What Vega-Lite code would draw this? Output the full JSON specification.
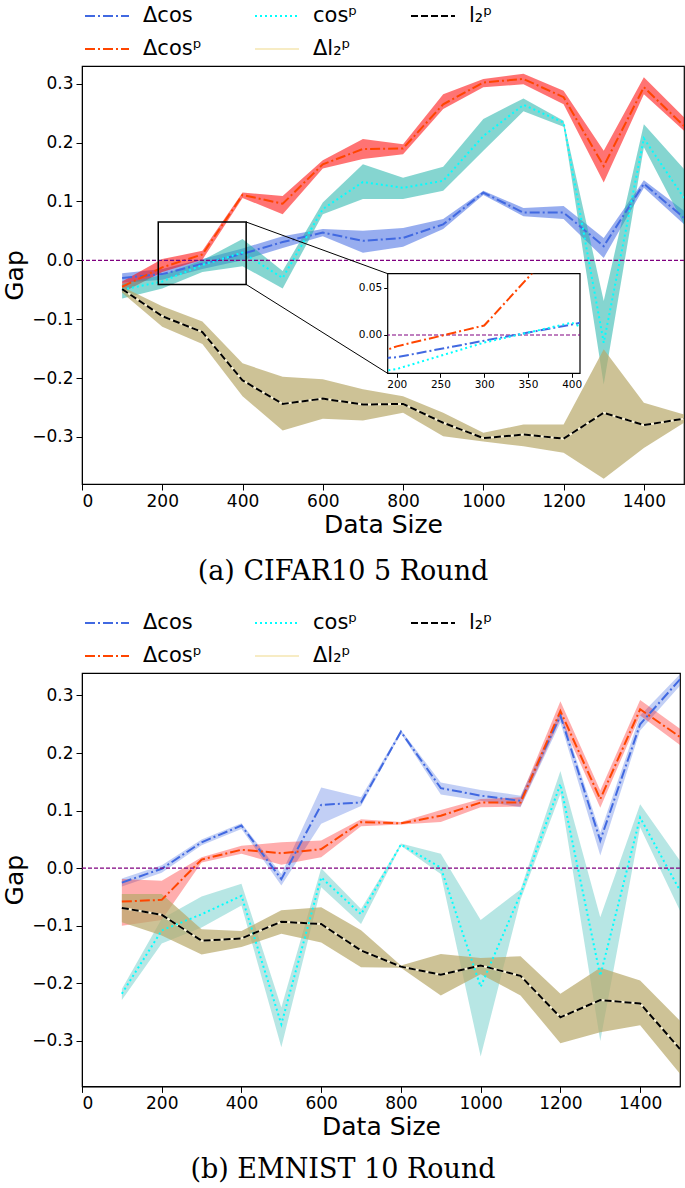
{
  "$schema": "https://vega.github.io/schema/vega-lite/v6.json",
  "padding": {"left": 2, "top": -8, "right": 0, "bottom": 0},
  "config": {
    "font": "DejaVu Sans",
    "view": {"stroke": null},
    "axis": {"labelFont": "DejaVu Sans", "titleFont": "DejaVu Sans", "labelColor": "black", "titleColor": "black", "domainColor": "black", "tickColor": "black", "grid": false, "labelFontSize": 17, "titleFontSize": 25, "titleFontWeight": "normal", "tickSize": 6, "labelPadding": 3}
  },
  "datasets": {
    "a": [
      {"series": "Δcos", "x": 100, "y": -0.030, "lo": -0.038, "hi": -0.022},
      {"series": "Δcos", "x": 200, "y": -0.0235, "lo": -0.033, "hi": -0.015},
      {"series": "Δcos", "x": 300, "y": -0.006, "lo": -0.015, "hi": 0.002},
      {"series": "Δcos", "x": 400, "y": 0.011, "lo": 0.000, "hi": 0.020},
      {"series": "Δcos", "x": 500, "y": 0.031, "lo": 0.021, "hi": 0.041},
      {"series": "Δcos", "x": 600, "y": 0.047, "lo": 0.041, "hi": 0.053},
      {"series": "Δcos", "x": 700, "y": 0.033, "lo": 0.013, "hi": 0.050},
      {"series": "Δcos", "x": 800, "y": 0.038, "lo": 0.023, "hi": 0.055},
      {"series": "Δcos", "x": 900, "y": 0.061, "lo": 0.053, "hi": 0.070},
      {"series": "Δcos", "x": 1000, "y": 0.115, "lo": 0.111, "hi": 0.118},
      {"series": "Δcos", "x": 1100, "y": 0.081, "lo": 0.075, "hi": 0.089},
      {"series": "Δcos", "x": 1200, "y": 0.081, "lo": 0.070, "hi": 0.092},
      {"series": "Δcos", "x": 1300, "y": 0.024, "lo": 0.004, "hi": 0.038},
      {"series": "Δcos", "x": 1400, "y": 0.130, "lo": 0.123, "hi": 0.136},
      {"series": "Δcos", "x": 1500, "y": 0.072, "lo": 0.061, "hi": 0.084},
      {"series": "Δcosᵖ", "x": 100, "y": -0.045, "lo": -0.055, "hi": -0.036},
      {"series": "Δcosᵖ", "x": 200, "y": -0.012, "lo": -0.020, "hi": 0.002},
      {"series": "Δcosᵖ", "x": 300, "y": 0.010, "lo": 0.001, "hi": 0.016},
      {"series": "Δcosᵖ", "x": 400, "y": 0.111, "lo": 0.106, "hi": 0.115},
      {"series": "Δcosᵖ", "x": 500, "y": 0.096, "lo": 0.078, "hi": 0.109},
      {"series": "Δcosᵖ", "x": 600, "y": 0.163, "lo": 0.156, "hi": 0.170},
      {"series": "Δcosᵖ", "x": 700, "y": 0.189, "lo": 0.172, "hi": 0.206},
      {"series": "Δcosᵖ", "x": 800, "y": 0.190, "lo": 0.180, "hi": 0.197},
      {"series": "Δcosᵖ", "x": 900, "y": 0.265, "lo": 0.257, "hi": 0.282},
      {"series": "Δcosᵖ", "x": 1000, "y": 0.302, "lo": 0.294, "hi": 0.308},
      {"series": "Δcosᵖ", "x": 1100, "y": 0.308, "lo": 0.299, "hi": 0.317},
      {"series": "Δcosᵖ", "x": 1200, "y": 0.277, "lo": 0.265, "hi": 0.288},
      {"series": "Δcosᵖ", "x": 1300, "y": 0.160, "lo": 0.132, "hi": 0.186},
      {"series": "Δcosᵖ", "x": 1400, "y": 0.294, "lo": 0.282, "hi": 0.311},
      {"series": "Δcosᵖ", "x": 1500, "y": 0.228, "lo": 0.220, "hi": 0.243},
      {"series": "cosᵖ", "x": 100, "y": -0.050, "lo": -0.065, "hi": -0.040},
      {"series": "cosᵖ", "x": 200, "y": -0.036, "lo": -0.048, "hi": -0.025},
      {"series": "cosᵖ", "x": 300, "y": -0.008, "lo": -0.020, "hi": 0.000},
      {"series": "cosᵖ", "x": 400, "y": 0.013, "lo": -0.010, "hi": 0.036},
      {"series": "cosᵖ", "x": 500, "y": -0.030, "lo": -0.048, "hi": -0.018},
      {"series": "cosᵖ", "x": 600, "y": 0.087, "lo": 0.078, "hi": 0.098},
      {"series": "cosᵖ", "x": 700, "y": 0.133, "lo": 0.104, "hi": 0.163},
      {"series": "cosᵖ", "x": 800, "y": 0.123, "lo": 0.104, "hi": 0.140},
      {"series": "cosᵖ", "x": 900, "y": 0.135, "lo": 0.118, "hi": 0.159},
      {"series": "cosᵖ", "x": 1000, "y": 0.211, "lo": 0.186, "hi": 0.240},
      {"series": "cosᵖ", "x": 1100, "y": 0.264, "lo": 0.253, "hi": 0.275},
      {"series": "cosᵖ", "x": 1200, "y": 0.234, "lo": 0.227, "hi": 0.237},
      {"series": "cosᵖ", "x": 1300, "y": -0.140, "lo": -0.211, "hi": -0.069},
      {"series": "cosᵖ", "x": 1400, "y": 0.207, "lo": 0.192, "hi": 0.231},
      {"series": "cosᵖ", "x": 1500, "y": 0.106, "lo": 0.061, "hi": 0.155},
      {"series": "l₂ᵖ", "x": 100, "y": -0.049, "lo": -0.055, "hi": -0.045},
      {"series": "l₂ᵖ", "x": 200, "y": -0.095, "lo": -0.113, "hi": -0.078},
      {"series": "l₂ᵖ", "x": 300, "y": -0.122, "lo": -0.142, "hi": -0.104},
      {"series": "l₂ᵖ", "x": 400, "y": -0.204, "lo": -0.231, "hi": -0.175},
      {"series": "l₂ᵖ", "x": 500, "y": -0.244, "lo": -0.289, "hi": -0.198},
      {"series": "l₂ᵖ", "x": 600, "y": -0.235, "lo": -0.269, "hi": -0.202},
      {"series": "l₂ᵖ", "x": 700, "y": -0.245, "lo": -0.272, "hi": -0.219},
      {"series": "l₂ᵖ", "x": 800, "y": -0.244, "lo": -0.259, "hi": -0.231},
      {"series": "l₂ᵖ", "x": 900, "y": -0.276, "lo": -0.299, "hi": -0.259},
      {"series": "l₂ᵖ", "x": 1000, "y": -0.302, "lo": -0.308, "hi": -0.293},
      {"series": "l₂ᵖ", "x": 1100, "y": -0.296, "lo": -0.316, "hi": -0.279},
      {"series": "l₂ᵖ", "x": 1200, "y": -0.303, "lo": -0.327, "hi": -0.279},
      {"series": "l₂ᵖ", "x": 1300, "y": -0.259, "lo": -0.371, "hi": -0.151},
      {"series": "l₂ᵖ", "x": 1400, "y": -0.280, "lo": -0.319, "hi": -0.242},
      {"series": "l₂ᵖ", "x": 1500, "y": -0.269, "lo": -0.276, "hi": -0.262}
    ],
    "b": [
      {"series": "Δcos", "x": 100, "y": -0.025, "lo": -0.032, "hi": -0.018},
      {"series": "Δcos", "x": 200, "y": -0.001, "lo": -0.008, "hi": 0.005},
      {"series": "Δcos", "x": 300, "y": 0.045, "lo": 0.040, "hi": 0.050},
      {"series": "Δcos", "x": 400, "y": 0.074, "lo": 0.068, "hi": 0.078},
      {"series": "Δcos", "x": 500, "y": -0.019, "lo": -0.030, "hi": -0.010},
      {"series": "Δcos", "x": 600, "y": 0.110, "lo": 0.077, "hi": 0.140},
      {"series": "Δcos", "x": 700, "y": 0.114, "lo": 0.108, "hi": 0.123},
      {"series": "Δcos", "x": 800, "y": 0.237, "lo": 0.234, "hi": 0.240},
      {"series": "Δcos", "x": 900, "y": 0.139, "lo": 0.128, "hi": 0.149},
      {"series": "Δcos", "x": 1000, "y": 0.126, "lo": 0.117, "hi": 0.136},
      {"series": "Δcos", "x": 1100, "y": 0.117, "lo": 0.106, "hi": 0.126},
      {"series": "Δcos", "x": 1200, "y": 0.265, "lo": 0.253, "hi": 0.273},
      {"series": "Δcos", "x": 1300, "y": 0.048, "lo": 0.022, "hi": 0.062},
      {"series": "Δcos", "x": 1400, "y": 0.250, "lo": 0.239, "hi": 0.265},
      {"series": "Δcos", "x": 1500, "y": 0.328, "lo": 0.317, "hi": 0.337},
      {"series": "Δcosᵖ", "x": 100, "y": -0.058, "lo": -0.100, "hi": -0.019},
      {"series": "Δcosᵖ", "x": 200, "y": -0.055, "lo": -0.090, "hi": -0.022},
      {"series": "Δcosᵖ", "x": 300, "y": 0.015, "lo": 0.010, "hi": 0.019},
      {"series": "Δcosᵖ", "x": 400, "y": 0.032, "lo": 0.025, "hi": 0.039},
      {"series": "Δcosᵖ", "x": 500, "y": 0.026, "lo": 0.006, "hi": 0.045},
      {"series": "Δcosᵖ", "x": 600, "y": 0.033, "lo": 0.019, "hi": 0.048},
      {"series": "Δcosᵖ", "x": 700, "y": 0.080, "lo": 0.073, "hi": 0.085},
      {"series": "Δcosᵖ", "x": 800, "y": 0.078, "lo": 0.076, "hi": 0.080},
      {"series": "Δcosᵖ", "x": 900, "y": 0.091, "lo": 0.080, "hi": 0.101},
      {"series": "Δcosᵖ", "x": 1000, "y": 0.114, "lo": 0.106, "hi": 0.120},
      {"series": "Δcosᵖ", "x": 1100, "y": 0.114, "lo": 0.107, "hi": 0.123},
      {"series": "Δcosᵖ", "x": 1200, "y": 0.273, "lo": 0.259, "hi": 0.290},
      {"series": "Δcosᵖ", "x": 1300, "y": 0.120, "lo": 0.105, "hi": 0.135},
      {"series": "Δcosᵖ", "x": 1400, "y": 0.276, "lo": 0.265, "hi": 0.292},
      {"series": "Δcosᵖ", "x": 1500, "y": 0.228, "lo": 0.214, "hi": 0.242},
      {"series": "cosᵖ", "x": 100, "y": -0.218, "lo": -0.229, "hi": -0.210},
      {"series": "cosᵖ", "x": 200, "y": -0.108, "lo": -0.131, "hi": -0.088},
      {"series": "cosᵖ", "x": 300, "y": -0.080, "lo": -0.103, "hi": -0.049},
      {"series": "cosᵖ", "x": 400, "y": -0.048, "lo": -0.065, "hi": -0.027},
      {"series": "cosᵖ", "x": 500, "y": -0.271, "lo": -0.311, "hi": -0.242},
      {"series": "cosᵖ", "x": 600, "y": -0.016, "lo": -0.033, "hi": 0.000},
      {"series": "cosᵖ", "x": 700, "y": -0.080, "lo": -0.097, "hi": -0.071},
      {"series": "cosᵖ", "x": 800, "y": 0.041, "lo": 0.039, "hi": 0.043},
      {"series": "cosᵖ", "x": 900, "y": 0.001, "lo": -0.010, "hi": 0.025},
      {"series": "cosᵖ", "x": 1000, "y": -0.206, "lo": -0.327, "hi": -0.090},
      {"series": "cosᵖ", "x": 1100, "y": -0.045, "lo": -0.055, "hi": -0.037},
      {"series": "cosᵖ", "x": 1200, "y": 0.146, "lo": 0.129, "hi": 0.169},
      {"series": "cosᵖ", "x": 1300, "y": -0.187, "lo": -0.300, "hi": -0.085},
      {"series": "cosᵖ", "x": 1400, "y": 0.088, "lo": 0.071, "hi": 0.111},
      {"series": "cosᵖ", "x": 1500, "y": -0.039, "lo": -0.074, "hi": 0.013},
      {"series": "l₂ᵖ", "x": 100, "y": -0.069, "lo": -0.094, "hi": -0.045},
      {"series": "l₂ᵖ", "x": 200, "y": -0.081, "lo": -0.117, "hi": -0.045},
      {"series": "l₂ᵖ", "x": 300, "y": -0.126, "lo": -0.150, "hi": -0.106},
      {"series": "l₂ᵖ", "x": 400, "y": -0.122, "lo": -0.137, "hi": -0.109},
      {"series": "l₂ᵖ", "x": 500, "y": -0.093, "lo": -0.114, "hi": -0.073},
      {"series": "l₂ᵖ", "x": 600, "y": -0.097, "lo": -0.129, "hi": -0.068},
      {"series": "l₂ᵖ", "x": 700, "y": -0.143, "lo": -0.172, "hi": -0.108},
      {"series": "l₂ᵖ", "x": 800, "y": -0.171, "lo": -0.173, "hi": -0.169},
      {"series": "l₂ᵖ", "x": 900, "y": -0.185, "lo": -0.221, "hi": -0.149},
      {"series": "l₂ᵖ", "x": 1000, "y": -0.169, "lo": -0.184, "hi": -0.156},
      {"series": "l₂ᵖ", "x": 1100, "y": -0.187, "lo": -0.221, "hi": -0.153},
      {"series": "l₂ᵖ", "x": 1200, "y": -0.259, "lo": -0.304, "hi": -0.218},
      {"series": "l₂ᵖ", "x": 1300, "y": -0.229, "lo": -0.285, "hi": -0.173},
      {"series": "l₂ᵖ", "x": 1400, "y": -0.235, "lo": -0.273, "hi": -0.195},
      {"series": "l₂ᵖ", "x": 1500, "y": -0.314, "lo": -0.357, "hi": -0.265}
    ]
  },
  "spacing": 13,
  "resolve": {
    "scale": {"stroke": "independent", "strokeDash": "independent", "fill": "independent", "x": "independent", "y": "independent"},
    "legend": {"stroke": "independent", "strokeDash": "independent", "fill": "independent"}
  },
  "vconcat": [
    {
      "width": 602,
      "height": 418,
      "view": {"stroke": "black", "strokeWidth": 1.2},
      "title": {"text": "(a) CIFAR10 5 Round", "orient": "bottom", "anchor": "middle", "dx": -40, "font": "DejaVu Serif", "fontSize": 27, "fontWeight": "normal", "color": "black", "offset": 22},
      "data": {"name": "a"},
      "resolve": {"scale": {"x": "independent", "y": "independent"}},
      "layer": [
        {
          "layer": [
            {
              "transform": [{"filter": "datum.series !== 'l₂ᵖ'"}],
              "mark": {"type": "area", "clip": true, "fillOpacity": 0.55},
              "encoding": {
                "x": {"field": "x", "type": "quantitative", "title": "Data Size", "scale": {"domain": [0, 1500], "nice": false, "zero": false}, "axis": {"values": [0, 200, 400, 600, 800, 1000, 1200, 1400], "format": "d", "titlePadding": 3}},
                "y": {"field": "lo", "type": "quantitative", "title": "Gap", "scale": {"domain": [-0.38, 0.33], "nice": false, "zero": false}, "axis": {"values": [-0.3, -0.2, -0.1, 0, 0.1, 0.2, 0.3], "format": ".1f", "titlePadding": 4}},
                "y2": {"field": "hi"},
                "fill": {"field": "series", "type": "nominal", "scale": {"domain": ["Δcos", "Δcosᵖ", "cosᵖ"], "range": ["#4169e1", "#ff0000", "#20b2aa"]}, "legend": null}
              }
            },
            {
              "transform": [{"filter": "datum.series === 'l₂ᵖ'"}],
              "mark": {"type": "area", "clip": true, "fill": "#b8a86a", "fillOpacity": 0.7},
              "encoding": {
                "x": {"field": "x", "type": "quantitative", "title": "Data Size"},
                "y": {"field": "lo", "type": "quantitative", "title": "Gap"},
                "y2": {"field": "hi"}
              }
            },
            {
              "transform": [{"filter": "datum.series === 'l₂ᵖ'"}],
              "mark": {"type": "line", "clip": true, "stroke": "#fbf4d8", "strokeWidth": 2},
              "encoding": {
                "x": {"field": "x", "type": "quantitative", "title": "Data Size"},
                "y": {"field": "y", "type": "quantitative", "title": "Gap"}
              }
            },
            {
              "mark": {"type": "line", "clip": true, "strokeWidth": 2},
              "encoding": {
                "x": {"field": "x", "type": "quantitative", "title": "Data Size"},
                "y": {"field": "y", "type": "quantitative", "title": "Gap"},
                "stroke": {"field": "series", "type": "nominal", "scale": {"domain": ["Δcos", "Δcosᵖ", "cosᵖ", "Δl₂ᵖ", "l₂ᵖ"], "range": ["#4169e1", "#ff4500", "#00ffff", "#f7ecc4", "#000000"]}, "legend": {"orient": "none", "legendX": 2, "legendY": -73, "columns": 3, "symbolType": "stroke", "symbolSize": 1936, "symbolStrokeWidth": 2, "labelFontSize": 21, "labelFont": "DejaVu Sans", "labelColor": "black", "title": null, "rowPadding": -7, "columnPadding": 49, "labelOffset": 13, "labelLimit": 300, "padding": 0}},
                "strokeDash": {"field": "series", "type": "nominal", "scale": {"domain": ["Δcos", "Δcosᵖ", "cosᵖ", "Δl₂ᵖ", "l₂ᵖ"], "range": [[10, 3, 2, 3], [10, 3, 2, 3], [2, 3], [1, 0], [7, 3]]}, "legend": {"orient": "none", "legendX": 2, "legendY": -73, "columns": 3, "symbolType": "stroke", "symbolSize": 1936, "symbolStrokeWidth": 2, "labelFontSize": 21, "labelFont": "DejaVu Sans", "labelColor": "black", "title": null, "rowPadding": -7, "columnPadding": 49, "labelOffset": 13, "labelLimit": 300, "padding": 0}}
              }
            },
            {
              "data": {"values": [{"y": 0}]},
              "mark": {"type": "rule", "stroke": "#800080", "strokeDash": [4, 2], "strokeWidth": 1.2},
              "encoding": {"y": {"field": "y", "type": "quantitative", "title": "Gap"}}
            },
            {
              "data": {"values": [{"x": 190, "x2": 409, "y": -0.041, "y2": 0.065}]},
              "mark": {"type": "rect", "fill": null, "stroke": "black", "strokeWidth": 1.5},
              "encoding": {
                "x": {"field": "x", "type": "quantitative", "title": "Data Size"},
                "x2": {"field": "x2"},
                "y": {"field": "y", "type": "quantitative", "title": "Gap"},
                "y2": {"field": "y2"}
              }
            },
            {
              "data": {"values": [{"x": 409, "x2": 762, "y": 0.065, "y2": -0.0228}, {"x": 409, "x2": 762, "y": -0.041, "y2": -0.1922}]},
              "mark": {"type": "rule", "stroke": "black", "strokeWidth": 1},
              "encoding": {
                "x": {"field": "x", "type": "quantitative", "title": "Data Size"},
                "x2": {"field": "x2"},
                "y": {"field": "y", "type": "quantitative", "title": "Gap"},
                "y2": {"field": "y2"}
              }
            }
          ]
        },
        {
          "layer": [
            {
              "data": {"values": [{"x": 189.7, "x2": 409.5, "y": -0.0405, "y2": 0.0648}]},
              "mark": {"type": "rect", "fill": "white", "stroke": "black", "strokeWidth": 1.2},
              "encoding": {
                "x": {"field": "x", "type": "quantitative", "title": null, "scale": {"domain": [189.7, 409.5], "range": [305.7, 498], "nice": false, "zero": false}, "axis": {"orient": "bottom", "offset": -110.7, "values": [200, 250, 300, 350, 400], "labelFontSize": 10.5, "domain": false, "tickSize": 4, "labelPadding": 2, "title": null}},
                "x2": {"field": "x2"},
                "y": {"field": "y", "type": "quantitative", "title": null, "scale": {"domain": [-0.0405, 0.0648], "range": [307.3, 207.7], "nice": false, "zero": false}, "axis": {"orient": "left", "offset": -305.7, "values": [0, 0.05], "format": ".2f", "labelFontSize": 10.5, "domain": false, "tickSize": 4, "labelPadding": 2, "title": null}},
                "y2": {"field": "y2"}
              }
            },
            {
              "data": {"values": [{"y": 0}]},
              "mark": {"type": "rule", "stroke": "#800080", "strokeDash": [4, 2], "strokeWidth": 1.2, "clip": {"expr": "pathShape('M305.7,207.7H498V307.3H305.7Z')"}},
              "encoding": {"y": {"field": "y", "type": "quantitative", "title": null}}
            },
            {
              "transform": [{"filter": "datum.series === 'Δcos'"}],
              "mark": {"type": "line", "clip": {"expr": "pathShape('M305.7,207.7H498V307.3H305.7Z')"}, "stroke": "#4169e1", "strokeDash": [10, 3, 2, 3], "strokeWidth": 2},
              "encoding": {
                "x": {"field": "x", "type": "quantitative", "title": null},
                "y": {"field": "y", "type": "quantitative", "title": null}
              }
            },
            {
              "transform": [{"filter": "datum.series === 'Δcosᵖ'"}],
              "mark": {"type": "line", "clip": {"expr": "pathShape('M305.7,207.7H498V307.3H305.7Z')"}, "stroke": "#ff4500", "strokeDash": [10, 3, 2, 3], "strokeWidth": 2},
              "encoding": {
                "x": {"field": "x", "type": "quantitative", "title": null},
                "y": {"field": "y", "type": "quantitative", "title": null}
              }
            },
            {
              "transform": [{"filter": "datum.series === 'cosᵖ'"}],
              "mark": {"type": "line", "clip": {"expr": "pathShape('M305.7,207.7H498V307.3H305.7Z')"}, "stroke": "#00ffff", "strokeDash": [2, 3], "strokeWidth": 2},
              "encoding": {
                "x": {"field": "x", "type": "quantitative", "title": null},
                "y": {"field": "y", "type": "quantitative", "title": null}
              }
            }
          ]
        }
      ]
    },
    {
      "width": 598,
      "height": 413.4,
      "view": {"stroke": "black", "strokeWidth": 1.2},
      "title": {"text": "(b) EMNIST 10 Round", "orient": "bottom", "anchor": "middle", "dx": -38, "font": "DejaVu Serif", "fontSize": 27, "fontWeight": "normal", "color": "black", "offset": 18},
      "data": {"name": "b"},
      "layer": [
        {
          "transform": [{"filter": "datum.series !== 'l₂ᵖ'"}],
          "mark": {"type": "area", "clip": true, "fillOpacity": 0.32},
          "encoding": {
            "x": {"field": "x", "type": "quantitative", "title": "Data Size", "scale": {"domain": [0, 1500], "nice": false, "zero": false}, "axis": {"values": [0, 200, 400, 600, 800, 1000, 1200, 1400], "format": "d", "titlePadding": 3}},
            "y": {"field": "lo", "type": "quantitative", "title": "Gap", "scale": {"domain": [-0.379, 0.339], "nice": false, "zero": false}, "axis": {"values": [-0.3, -0.2, -0.1, 0, 0.1, 0.2, 0.3], "format": ".1f", "titlePadding": 4}},
            "y2": {"field": "hi"},
            "fill": {"field": "series", "type": "nominal", "scale": {"domain": ["Δcos", "Δcosᵖ", "cosᵖ"], "range": ["#4169e1", "#ff0000", "#20b2aa"]}, "legend": null}
          }
        },
        {
          "transform": [{"filter": "datum.series === 'l₂ᵖ'"}],
          "mark": {"type": "area", "clip": true, "fill": "#b8a86a", "fillOpacity": 0.7},
          "encoding": {
            "x": {"field": "x", "type": "quantitative", "title": "Data Size"},
            "y": {"field": "lo", "type": "quantitative", "title": "Gap"},
            "y2": {"field": "hi"}
          }
        },
        {
          "transform": [{"filter": "datum.series === 'l₂ᵖ'"}],
          "mark": {"type": "line", "clip": true, "stroke": "#fbf4d8", "strokeWidth": 2},
          "encoding": {
            "x": {"field": "x", "type": "quantitative", "title": "Data Size"},
            "y": {"field": "y", "type": "quantitative", "title": "Gap"}
          }
        },
        {
          "mark": {"type": "line", "clip": true, "strokeWidth": 2},
          "encoding": {
            "x": {"field": "x", "type": "quantitative", "title": "Data Size"},
            "y": {"field": "y", "type": "quantitative", "title": "Gap"},
            "stroke": {"field": "series", "type": "nominal", "scale": {"domain": ["Δcos", "Δcosᵖ", "cosᵖ", "Δl₂ᵖ", "l₂ᵖ"], "range": ["#4169e1", "#ff4500", "#00ffff", "#f7ecc4", "#000000"]}, "legend": {"orient": "none", "legendX": 2, "legendY": -73, "columns": 3, "symbolType": "stroke", "symbolSize": 1936, "symbolStrokeWidth": 2, "labelFontSize": 21, "labelFont": "DejaVu Sans", "labelColor": "black", "title": null, "rowPadding": -7, "columnPadding": 49, "labelOffset": 13, "labelLimit": 300, "padding": 0}},
            "strokeDash": {"field": "series", "type": "nominal", "scale": {"domain": ["Δcos", "Δcosᵖ", "cosᵖ", "Δl₂ᵖ", "l₂ᵖ"], "range": [[10, 3, 2, 3], [10, 3, 2, 3], [2, 3], [1, 0], [7, 3]]}, "legend": {"orient": "none", "legendX": 2, "legendY": -73, "columns": 3, "symbolType": "stroke", "symbolSize": 1936, "symbolStrokeWidth": 2, "labelFontSize": 21, "labelFont": "DejaVu Sans", "labelColor": "black", "title": null, "rowPadding": -7, "columnPadding": 49, "labelOffset": 13, "labelLimit": 300, "padding": 0}}
          }
        },
        {
          "data": {"values": [{"y": 0}]},
          "mark": {"type": "rule", "stroke": "#800080", "strokeDash": [4, 2], "strokeWidth": 1.2},
          "encoding": {"y": {"field": "y", "type": "quantitative", "title": "Gap"}}
        }
      ]
    }
  ]
}
